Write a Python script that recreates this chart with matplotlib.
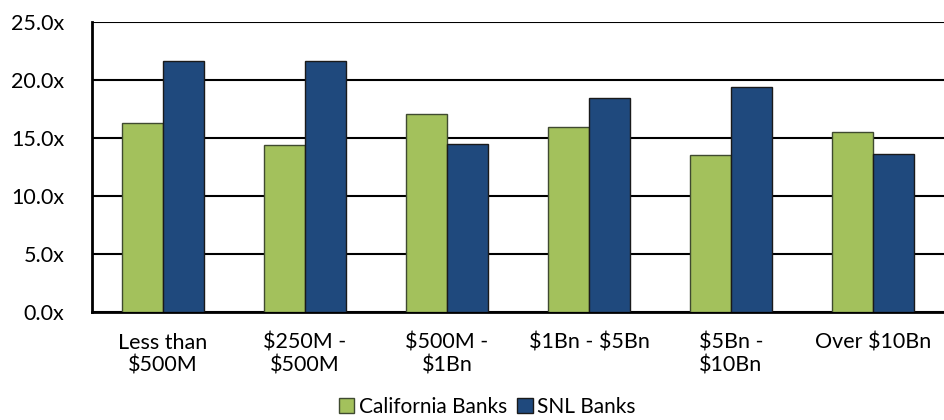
import matplotlib.pyplot as plt
import numpy as np
from matplotlib.patches import Patch

plt.rcParams['font.family'] = ['Lato', 'DejaVu Sans']

categories = ["Less than\n\\$500M", "\\$250M -\n\\$500M", "\\$500M -\n\\$1Bn", "\\$1Bn - \\$5Bn", "\\$5Bn -\n\\$10Bn", "Over \\$10Bn"]
california = [16.3, 14.4, 17.1, 15.9, 13.5, 15.5]
snl = [21.6, 21.6, 14.5, 18.4, 19.4, 13.6]
yticks = [0, 5, 10, 15, 20, 25]

green = "#A3C15C"
blue = "#1F497D"

fig = plt.figure(figsize=(9.44, 4.2), dpi=100)
ax = fig.add_axes([0.0975, 0.257, 0.9025, 0.691])

x = np.arange(len(categories))
w = 0.29
ax.bar(x - w/2, california, w, color=green, edgecolor="#3f4a30", linewidth=1.0, zorder=3)
ax.bar(x + w/2, snl, w, color=blue, edgecolor="#1a1a1a", linewidth=1.0, zorder=3)

ax.set_xlim(-0.5, 5.5)
ax.set_ylim(0, 25)
ax.set_yticks(yticks)
ax.set_yticklabels(["%.1fx" % v for v in yticks], fontsize=15.5)
ax.set_xticks(x)
ax.set_xticklabels(categories, fontsize=15.5, linespacing=1.15, va="top")
ax.tick_params(length=0)
ax.tick_params(axis="x", pad=15)
ax.tick_params(axis="y", pad=20)

ax.grid(axis="y", color="black", linewidth=1.5, zorder=0)
for s in ["top", "right"]:
    ax.spines[s].set_visible(False)
for s in ["left", "bottom"]:
    ax.spines[s].set_linewidth(2)

handles = [Patch(facecolor=green, edgecolor="#3f4a30", label="California Banks"),
           Patch(facecolor=blue, edgecolor="#1a1a1a", label="SNL Banks")]
fig.legend(handles=handles, loc="center", bbox_to_anchor=(0.516, 0.032), ncol=2, frameon=False,
           fontsize=15, handlelength=0.75, handleheight=0.75, handletextpad=0.2, columnspacing=0.5,
           borderpad=0)

fig.savefig("out.png", dpi=100)
